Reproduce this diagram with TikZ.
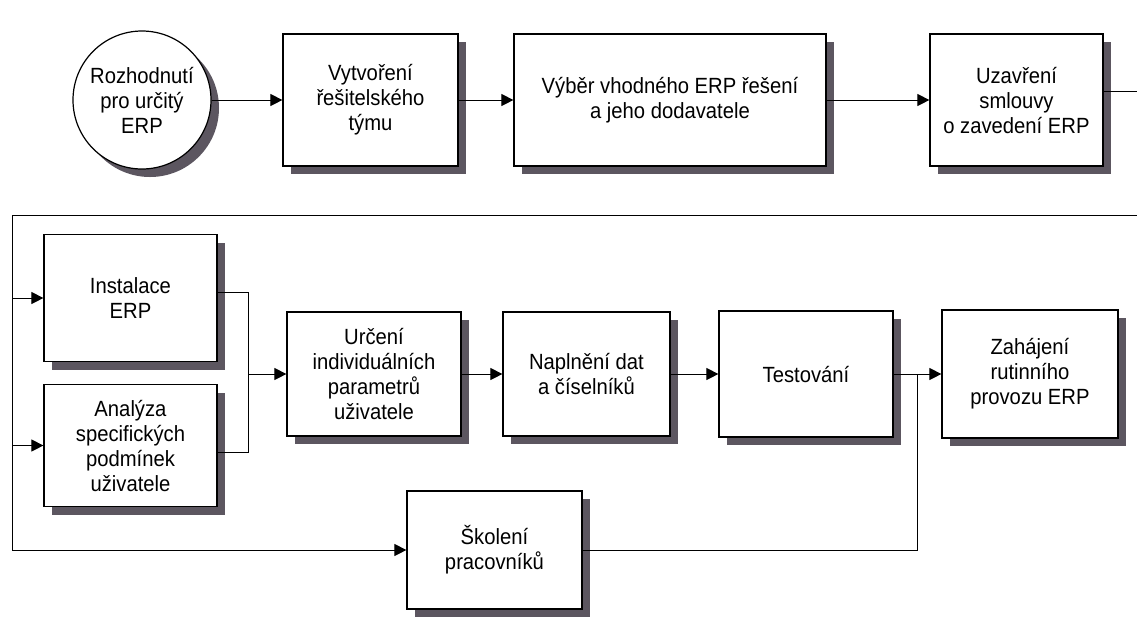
\documentclass[tikz,border=0pt]{standalone}
\usepackage{fontspec}
\setmainfont{Liberation Sans}[FakeStretch=0.92]
\usetikzlibrary{arrows.meta,shadows}
\definecolor{shadowgray}{RGB}{92,86,96}
\begin{document}
\begin{tikzpicture}[x=0.5pt,y=-0.5pt,
    every node/.style={font=\fontsize{11}{12.5}\selectfont,align=center},
    phase/.style={draw,fill=white,line width=0.6pt,inner sep=0pt,
      drop shadow={shadow xshift=4pt,shadow yshift=-4pt,fill=shadowgray,opacity=1}},
    start/.style={phase,circle,minimum size=69pt},
    flow/.style={line width=0.5pt,-{Triangle[length=6pt,width=6pt]}}]
  \useasboundingbox (0,0) rectangle (1137,623);
  % first row
  \node[start] (rozhod) at (142,100) {Rozhodnutí\\pro určitý\\ERP};
  \node[phase,minimum width=87.5pt,minimum height=66pt] (tym) at (370.5,100) {Vytvoření\\řešitelského\\týmu};
  \node[phase,minimum width=156pt,minimum height=66pt] (vyber) at (670,100) {Výběr vhodného ERP řešení\\a jeho dodavatele};
  \node[phase,minimum width=86.5pt,minimum height=66pt] (smlouva) at (1016.5,100) {Uzavření\\smlouvy\\o zavedení ERP};
  % second row
  \node[phase,minimum width=86.5pt,minimum height=63.5pt] (instal) at (130.5,298) {Instalace\\ERP};
  \node[phase,minimum width=86.5pt,minimum height=61pt] (analyza) at (130.5,445.5) {Analýza\\specifických\\podmínek\\uživatele};
  \node[phase,minimum width=87pt,minimum height=62pt] (urceni) at (374,374) {Určení\\individuálních\\parametrů\\uživatele};
  \node[phase,minimum width=83.5pt,minimum height=62pt] (napln) at (586.5,374) {Naplnění dat\\a číselníků};
  \node[phase,minimum width=87pt,minimum height=63pt] (test) at (806,374) {Testování};
  \node[phase,minimum width=88pt,minimum height=64pt] (zahaj) at (1030,374) {Zahájení\\rutinního\\provozu ERP};
  \node[phase,minimum width=87.5pt,minimum height=59pt] (skoleni) at (494.5,550) {Školení\\pracovníků};
  % corners of the return line
  \coordinate (edgeTop) at (1137,91);
  \coordinate (edgeBack) at (1137,215);
  \coordinate (cornerTL) at (12,215);
  \coordinate (cornerBL) at (12,550);
  \coordinate (fork) at (248,374);
  \coordinate (join) at (917,374);
  \begin{scope}[flow]
    \draw (rozhod) -- (tym);
    \draw (tym) -- (vyber);
    \draw (vyber) -- (smlouva);
    \draw[-] (smlouva.east |- edgeTop) -- (edgeTop);
    \draw (edgeBack) -- (cornerTL) -- (cornerBL) -- (skoleni);
    \draw (cornerTL |- instal) -- (instal);
    \draw (cornerTL |- analyza) -- (analyza);
    \draw[-] ([yshift=3pt]instal.east) -| (fork);
    \draw[-] ([yshift=-3.5pt]analyza.east) -| (fork);
    \draw (fork) -- (urceni);
    \draw (urceni) -- (napln);
    \draw (napln) -- (test);
    \draw (test) -- (zahaj);
    \draw[-] (skoleni) -| (join);
  \end{scope}
\end{tikzpicture}
\end{document}
